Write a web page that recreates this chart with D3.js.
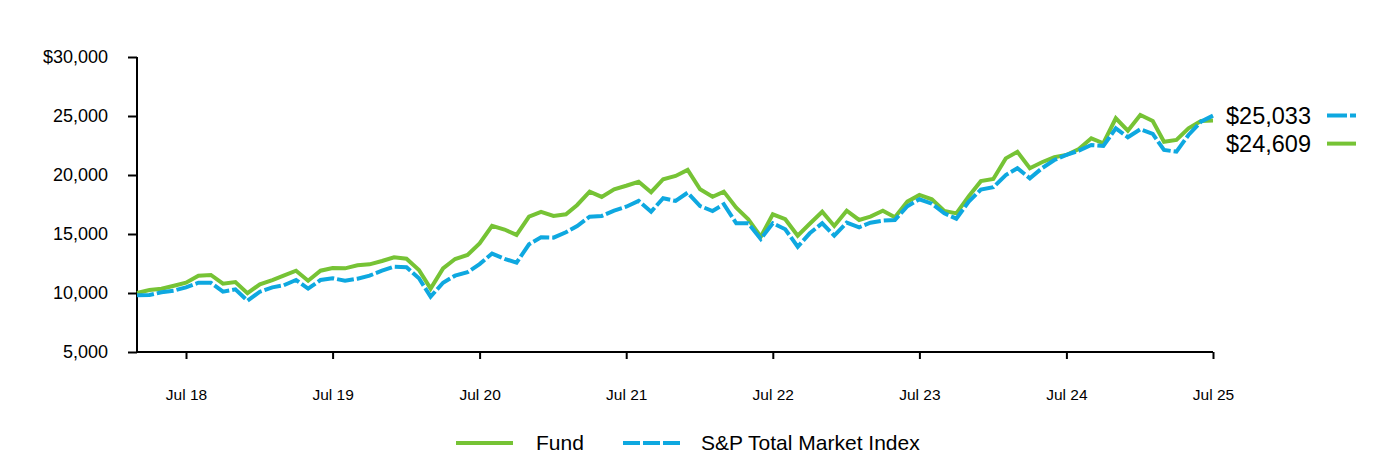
<!DOCTYPE html>
<html>
<head>
<meta charset="utf-8">
<script src="https://cdn.jsdelivr.net/npm/d3@7"></script>
<style>
  body { margin: 0; background: #fff; }
  svg { display: block; font-family: Arial, "Liberation Sans", sans-serif; }
</style>
</head>
<body>
<script>
// monthly values, Mar 2018 .. Jul 2025
var firstMonth = new Date(2018, 2, 1);
var lastMonth = new Date(2025, 6, 1);

var fund = [10000, 10250, 10360, 10620, 10870, 11470, 11530, 10790, 10930, 9980,
  10740, 11100, 11470, 11890, 11040, 11890, 12120, 12090, 12350, 12430,
  12710, 13030, 12910, 11950, 10370, 12090, 12880, 13220, 14210, 15700,
  15380, 14920, 16470, 16870, 16530, 16670, 17460, 18590, 18140, 18790,
  19090, 19430, 18540, 19640, 19920, 20430, 18790, 18160, 18590, 17230,
  16250, 14770, 16670, 16250, 14860, 15870, 16890, 15680, 16980, 16190,
  16470, 16980, 16420, 17740, 18310, 17940, 16950, 16750, 18200, 19480,
  19660, 21410, 21970, 20570, 21080, 21500, 21700, 22200, 23110, 22690,
  24810, 23760, 25090, 24580, 22820, 22970, 23960, 24580, 24609];

var index = [9800, 9830, 10060, 10200, 10480, 10870, 10870, 10110, 10310, 9350,
  10110, 10480, 10650, 11100, 10370, 11100, 11250, 11040, 11210, 11470,
  11890, 12230, 12180, 11250, 9690, 10870, 11470, 11760, 12450, 13340,
  12900, 12570, 14130, 14720, 14690, 15150, 15680, 16470, 16530, 16980,
  17310, 17800, 16890, 18030, 17800, 18500, 17370, 16950, 17520, 15910,
  15910, 14580, 15910, 15400, 13920, 15060, 15910, 14860, 15960, 15570,
  15960, 16130, 16190, 17350, 17940, 17570, 16750, 16300, 17740, 18760,
  18960, 20000, 20570, 19720, 20570, 21270, 21700, 22060, 22540, 22460,
  23960, 23200, 23870, 23480, 22120, 21980, 23390, 24520, 25033];

var yTicks = [5000, 10000, 15000, 20000, 25000, 30000];
var xTickYears = [2018, 2019, 2020, 2021, 2022, 2023, 2024, 2025];

var seriesNames = ["Fund", "S&P Total Market Index"];
var green = "#76c335";
var blue = "#0ea8e0";

var width = 1396, height = 460;
var svg = d3.select("body").append("svg")
  .attr("width", width)
  .attr("height", height);

var months = d3.timeMonth.range(firstMonth, d3.timeMonth.offset(lastMonth, 1));

var x = d3.scaleTime()
  .domain([firstMonth, lastMonth])
  .range([137, 1213]);

var y = d3.scaleLinear()
  .domain([5000, 30000])
  .range([352, 57]);

var fmt = d3.format(",");

// y axis
var yAxis = svg.append("g")
  .attr("transform", "translate(137,0)")
  .call(d3.axisLeft(y)
    .tickValues(yTicks)
    .tickSize(9)
    .tickPadding(20)
    .tickFormat(function(d) { return d === 30000 ? "$" + fmt(d) : fmt(d); }));
yAxis.select(".domain").attr("d", "M0," + y(30000) + "V" + y(5000));

// x axis
var xAxis = svg.append("g")
  .attr("transform", "translate(0,352)")
  .call(d3.axisBottom(x)
    .tickValues(xTickYears.map(function(yr) { return new Date(yr, 6, 1); }))
    .tickSize(7)
    .tickPadding(30)
    .tickFormat(d3.timeFormat("Jul %y")));
xAxis.select(".domain").attr("d", "M137,0H1213");

svg.selectAll(".domain, .tick line")
  .attr("stroke", "#000")
  .attr("stroke-width", 2);
yAxis.selectAll("text").attr("font-size", 18).attr("fill", "#000");
xAxis.selectAll("text").attr("font-size", 15.5).attr("fill", "#000");

var line = d3.line()
  .x(function(d, i) { return x(months[i]); })
  .y(function(d) { return y(d); });

svg.append("path")
  .datum(fund)
  .attr("fill", "none")
  .attr("stroke", green)
  .attr("stroke-width", 4)
  .attr("d", line);

svg.append("path")
  .datum(index)
  .attr("fill", "none")
  .attr("stroke", blue)
  .attr("stroke-width", 4)
  .attr("stroke-dasharray", "17,3")
  .attr("d", line);

// end labels
var endLabels = [
  { v: index[index.length - 1], color: blue, dash: "20,3" },
  { v: fund[fund.length - 1], color: green, dash: null }
];
var endG = svg.append("g");
endLabels.forEach(function(d, i) {
  var cy = y(index[index.length - 1]) + i * 28;
  endG.append("text")
    .attr("x", 1226)
    .attr("y", cy + 8)
    .attr("font-size", 23.5)
    .attr("fill", "#000")
    .text("$" + fmt(d.v));
  endG.append("line")
    .attr("x1", 1327).attr("x2", 1356)
    .attr("y1", cy).attr("y2", cy)
    .attr("stroke", d.color)
    .attr("stroke-width", 4)
    .attr("stroke-dasharray", d.dash);
});

// legend
var legend = svg.append("g").attr("transform", "translate(0,443)");
var legendItems = [
  { name: seriesNames[0], color: green, dash: null, x: 456, tx: 536 },
  { name: seriesNames[1], color: blue, dash: "17,3", x: 623, tx: 701 }
];
legendItems.forEach(function(d) {
  legend.append("line")
    .attr("x1", d.x).attr("x2", d.x + 57)
    .attr("stroke", d.color)
    .attr("stroke-width", 4)
    .attr("stroke-dasharray", d.dash);
  legend.append("text")
    .attr("x", d.tx)
    .attr("y", 7)
    .attr("font-size", 21)
    .attr("fill", "#000")
    .text(d.name);
});
</script>
</body>
</html>
